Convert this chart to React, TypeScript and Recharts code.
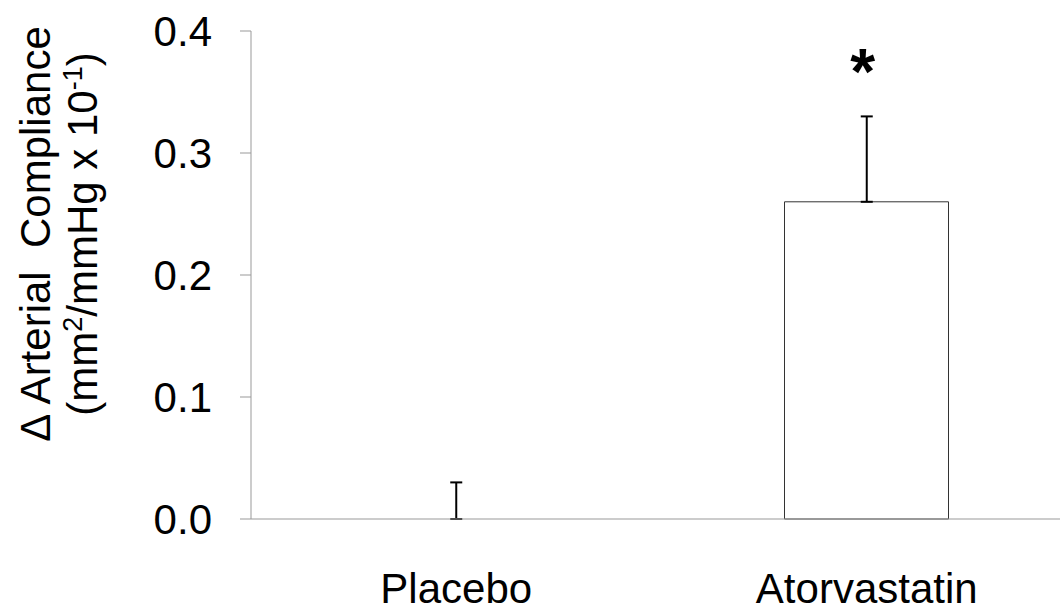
import React from 'react';
import { ComposedChart, Bar, Line, XAxis, YAxis, ErrorBar, ReferenceDot } from 'recharts';

const categories = ['Placebo', 'Atorvastatin'];
const meanChange = [0, 0.26];
const errorUp = [0.03, 0.07];
const significance = ['', '*'];
const yTicks = [0, 0.1, 0.2, 0.3, 0.4];

const FONT = '"Liberation Sans", Arial, sans-serif';

const data = categories.map((name, i) => ({
    name,
    value: meanChange[i],
    err: [0, errorUp[i]],
}));

const CategoryTick = (props: any) => {
    const { x, y, payload } = props;
    return (
        <text x={x} y={y} dy={84} textAnchor="middle" fontSize={42} fontFamily={FONT} fill="#000">
            {payload.value}
        </text>
    );
};

const AxisTitle = (props: any) => {
    const vb = props.viewBox || { y: 31, height: 488 };
    const cy = vb.y + vb.height / 2 - 41;
    return (
        <g fontFamily={FONT} fill="#000" fontSize={42}>
            <text x={50} y={cy} textAnchor="middle" transform={`rotate(-90 50 ${cy})`}>
                {'Δ Arterial\u00a0 Compliance'}
            </text>
            <text x={97} y={cy} textAnchor="middle" transform={`rotate(-90 97 ${cy})`}>
                (mm
                <tspan fontSize={27} dy={-15}>2</tspan>
                <tspan dy={15}>/mmHg x 10</tspan>
                <tspan fontSize={27} dy={-15}>-1</tspan>
                <tspan dy={15}>)</tspan>
            </text>
        </g>
    );
};

const Star = (props: any) => {
    const { cx, cy } = props;
    return (
        <text x={cx - 4} y={cy} dy={35} textAnchor="middle" fontSize={64} fontWeight="bold" fontFamily={FONT} fill="#000">
            *
        </text>
    );
};

export default function App() {
    return (
        <div style={{ position: 'absolute', left: 0, top: 0, width: 1060, height: 616, overflow: 'hidden', background: '#fff' }}>
            <ComposedChart width={1072} height={616} data={data} margin={{ top: 31, right: 0, bottom: 0, left: 0 }}>
                <XAxis
                    dataKey="name"
                    height={97}
                    stroke="#999"
                    tickLine={false}
                    tickSize={0}
                    tickMargin={0}
                    tick={<CategoryTick />}
                />
                <YAxis
                    width={251}
                    domain={[0, 0.4]}
                    ticks={yTicks}
                    interval={0}
                    stroke="#999"
                    tickSize={11}
                    tickMargin={28}
                    tickFormatter={(v: number) => v.toFixed(1)}
                    tick={{ fill: '#000', fontSize: 42, fontFamily: FONT }}
                    label={{ content: <AxisTitle /> }}
                />
                <Bar dataKey="value" barSize={164} fill="#fff" stroke="#333" strokeWidth={1} isAnimationActive={false} />
                <Line
                    dataKey="value"
                    stroke="none"
                    dot={false}
                    activeDot={false}
                    legendType="none"
                    isAnimationActive={false}
                >
                    <ErrorBar dataKey="err" direction="y" width={6} stroke="#000" strokeWidth={2} isAnimationActive={false} />
                </Line>
                {categories.map((c, i) =>
                    significance[i] ? (
                        <ReferenceDot key={c} x={c} y={0.377} r={0} ifOverflow="visible" shape={<Star />} />
                    ) : null
                )}
            </ComposedChart>
        </div>
    );
}
